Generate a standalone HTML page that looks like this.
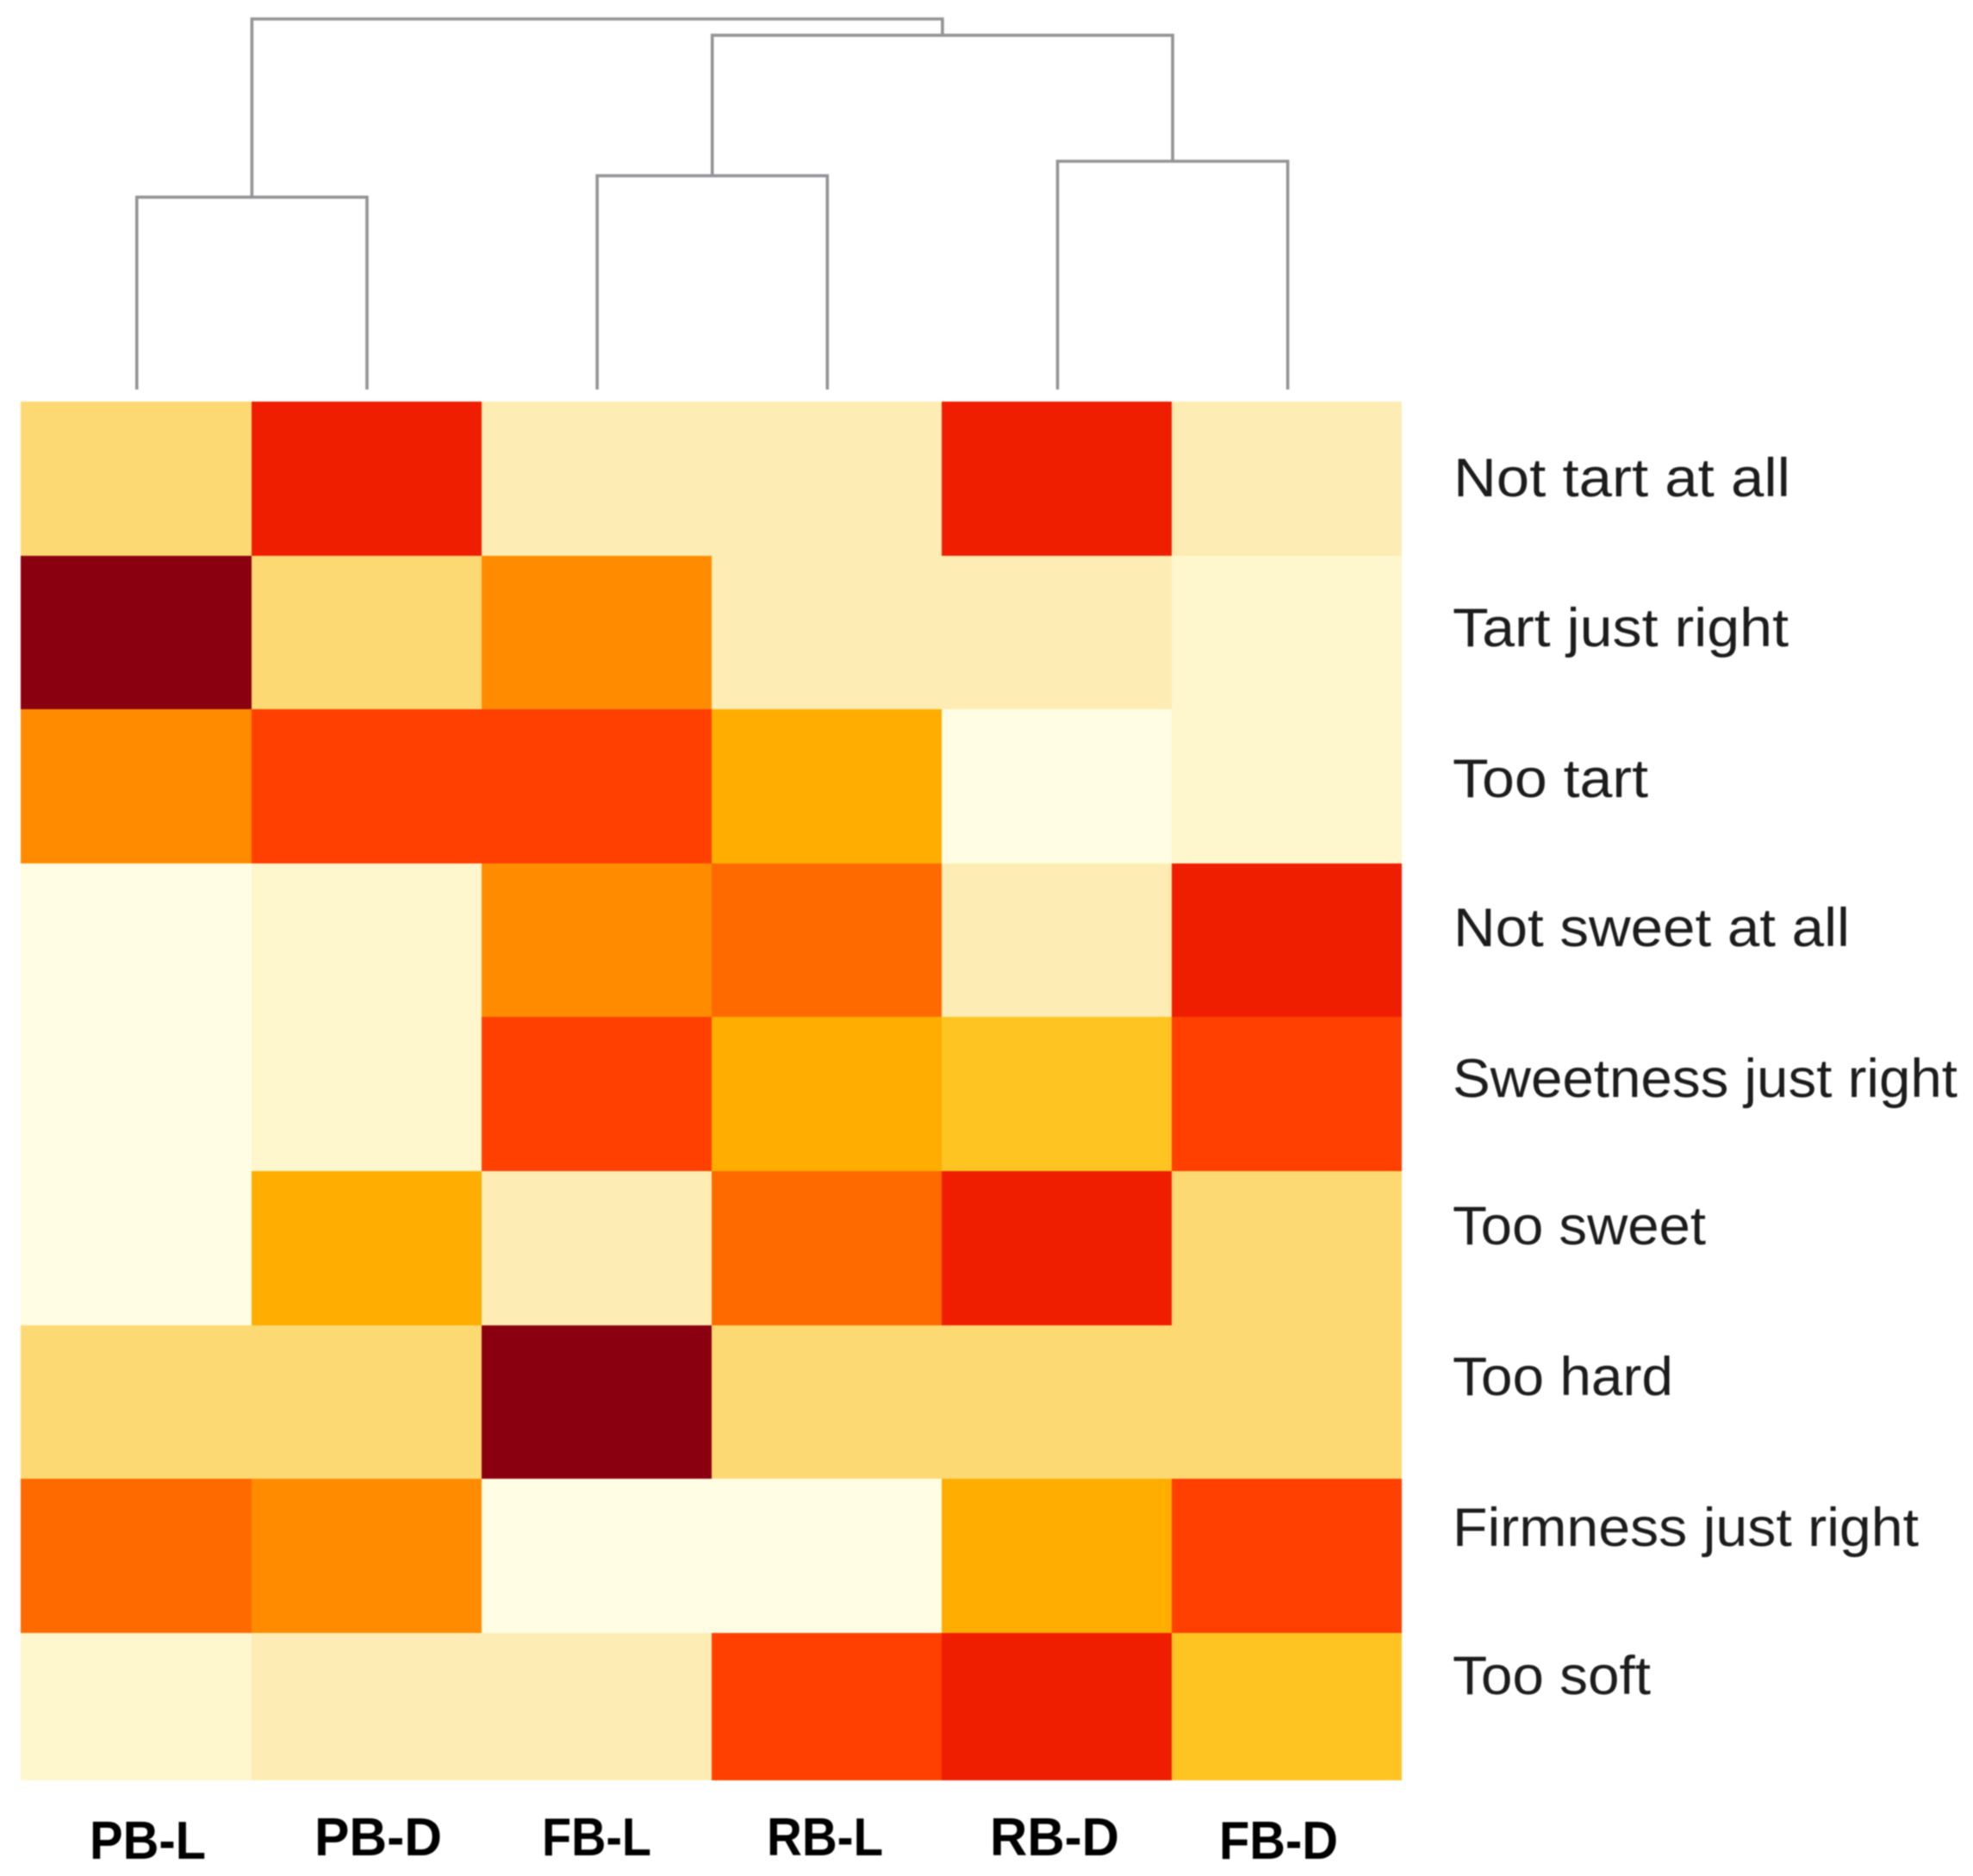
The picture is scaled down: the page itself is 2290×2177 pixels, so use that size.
<!DOCTYPE html>
<html lang="en">
<head>
<meta charset="utf-8">
<title>Clustered heatmap of sensory attributes</title>
<style>
  html, body { margin: 0; padding: 0; background: #ffffff; }
  body { width: 2290px; height: 2177px; overflow: hidden; }
  svg { display: block; filter: blur(0.7px); }
  .row-label { font-family: "Liberation Sans", sans-serif; font-size: 63px; fill: #1c1c1c; }
  .col-label { font-family: "Liberation Sans", sans-serif; font-size: 62px; font-weight: bold; fill: #000000; }
</style>
</head>
<body>
<svg id="chart" xmlns="http://www.w3.org/2000/svg" width="2290" height="2177" viewBox="0 0 2290 2177">
  <rect x="0" y="0" width="2290" height="2177" fill="#ffffff"/>
  <g id="dendrogram" fill="none" stroke="#949496" stroke-width="3.6"></g>
  <g id="cells" shape-rendering="crispEdges"></g>
  <g>
    <text class="row-label" x="1687" y="576" textLength="391" lengthAdjust="spacingAndGlyphs">Not tart at all</text>
    <text class="row-label" x="1686" y="750" textLength="390" lengthAdjust="spacingAndGlyphs">Tart just right</text>
    <text class="row-label" x="1686" y="925" textLength="227" lengthAdjust="spacingAndGlyphs">Too tart</text>
    <text class="row-label" x="1687" y="1098" textLength="460" lengthAdjust="spacingAndGlyphs">Not sweet at all</text>
    <text class="row-label" x="1686" y="1273" textLength="586" lengthAdjust="spacingAndGlyphs">Sweetness just right</text>
    <text class="row-label" x="1686" y="1444" textLength="294" lengthAdjust="spacingAndGlyphs">Too sweet</text>
    <text class="row-label" x="1686" y="1619" textLength="256" lengthAdjust="spacingAndGlyphs">Too hard</text>
    <text class="row-label" x="1686" y="1794" textLength="541" lengthAdjust="spacingAndGlyphs">Firmness just right</text>
    <text class="row-label" x="1686" y="1966" textLength="230" lengthAdjust="spacingAndGlyphs">Too soft</text>
  </g>
  <g>
    <text class="col-label" x="104" y="2157" textLength="135" lengthAdjust="spacingAndGlyphs">PB-L</text>
    <text class="col-label" x="365" y="2153" textLength="148" lengthAdjust="spacingAndGlyphs">PB-D</text>
    <text class="col-label" x="629" y="2153" textLength="127" lengthAdjust="spacingAndGlyphs">FB-L</text>
    <text class="col-label" x="890" y="2153" textLength="135" lengthAdjust="spacingAndGlyphs">RB-L</text>
    <text class="col-label" x="1149" y="2153" textLength="150" lengthAdjust="spacingAndGlyphs">RB-D</text>
    <text class="col-label" x="1415" y="2157" textLength="138" lengthAdjust="spacingAndGlyphs">FB-D</text>
  </g>
</svg>
<script>
// Column and row categories
const columns = ["PB-L", "PB-D", "FB-L", "RB-L", "RB-D", "FB-D"];
const rows = ["Not tart at all", "Tart just right", "Too tart", "Not sweet at all", "Sweetness just right", "Too sweet", "Too hard", "Firmness just right", "Too soft"];

// Heatmap values, one array per row (0 = lowest, 10 = highest)
const notTartAtAll = [3, 9, 2, 2, 9, 2];
const tartJustRight = [10, 3, 6, 2, 2, 1];
const tooTart = [6, 8, 8, 5, 0, 1];
const notSweetAtAll = [0, 1, 6, 7, 2, 9];
const sweetnessJustRight = [0, 1, 8, 5, 4, 8];
const tooSweet = [0, 5, 2, 7, 9, 3];
const tooHard = [3, 3, 10, 3, 3, 3];
const firmnessJustRight = [7, 6, 0, 0, 5, 8];
const tooSoft = [1, 2, 2, 8, 9, 4];

// Dendrogram merges: node ids 0-5 are the leaves, each merge creates the next id
const mergeLeft = [0, 2, 4, 7, 6];
const mergeRight = [1, 3, 5, 8, 9];
const mergeHeights = [0.519, 0.577, 0.616, 0.956, 1.0];

const values = [notTartAtAll, tartJustRight, tooTart, notSweetAtAll, sweetnessJustRight, tooSweet, tooHard, firmnessJustRight, tooSoft];

const svgNS = "http://www.w3.org/2000/svg";
const plotLeft = 24, plotRight = 1627, plotTop = 466, plotBottom = 2066;
const colStep = (plotRight - plotLeft) / columns.length;
const rowStep = 178.6;
const dendroBase = 452, dendroSpan = 430, dendroShift = 1.2;

function xBand(i) { return plotLeft + i * colStep; }
function yBand(i) { return plotTop + i * rowStep; }
function xCenter(i) { return xBand(i) + colStep / 2 + dendroShift; }
function yHeight(h) { return dendroBase - h * dendroSpan; }

const colorStops = ["#fffde3", "#fef6cc", "#fdedb4", "#fdd974", "#fec422", "#ffad00", "#ff8c00", "#ff6a00", "#ff4000", "#f01e00", "#8b0010"];
function hexToRgb(h) { return [1, 3, 5].map(function (p) { return parseInt(h.substr(p, 2), 16); }); }
function colorScale(v) {
  const t = Math.max(0, Math.min(colorStops.length - 1, v));
  const a = Math.floor(t), b = Math.min(colorStops.length - 1, a + 1), f = t - a;
  const ca = hexToRgb(colorStops[a]), cb = hexToRgb(colorStops[b]);
  return "rgb(" + ca.map(function (c, k) { return Math.round(c + (cb[k] - c) * f); }).join(",") + ")";
}

const cellsGroup = document.getElementById("cells");
values.forEach(function (rowValues, r) {
  rowValues.forEach(function (v, c) {
    const el = document.createElementNS(svgNS, "rect");
    const top = Math.round(yBand(r));
    const bottom = r === rows.length - 1 ? plotBottom : Math.round(yBand(r + 1));
    const left = Math.round(xBand(c) + (c > 0 ? 0.6 : 0));
    const right = c === columns.length - 1 ? plotRight : Math.round(xBand(c + 1) + 0.6);
    el.setAttribute("x", left);
    el.setAttribute("y", top);
    el.setAttribute("width", right - left);
    el.setAttribute("height", bottom - top);
    el.setAttribute("fill", colorScale(v));
    
    
    cellsGroup.appendChild(el);
  });
});

const dendroGroup = document.getElementById("dendrogram");
const nodeX = columns.map(function (_, i) { return xCenter(i); });
const nodeH = columns.map(function () { return 0; });
mergeHeights.forEach(function (h, m) {
  const a = mergeLeft[m], b = mergeRight[m];
  const el = document.createElementNS(svgNS, "path");
  el.setAttribute("d", "M" + nodeX[a] + " " + yHeight(nodeH[a]) + "V" + yHeight(h) + "H" + nodeX[b] + "V" + yHeight(nodeH[b]));
  
  
  dendroGroup.appendChild(el);
  nodeX.push((nodeX[a] + nodeX[b]) / 2);
  nodeH.push(h);
});
</script>
</body>
</html>
